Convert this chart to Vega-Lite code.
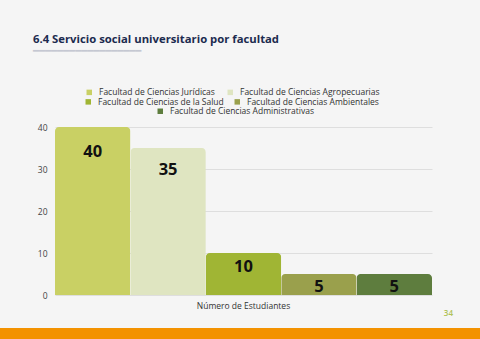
{
  "$schema": "https://vega.github.io/schema/vega-lite/v6.json",
  "background": "#f5f5f5",
  "padding": {"left": 0, "right": 0, "top": 33, "bottom": 0},
  "title": {
    "text": "6.4 Servicio social universitario por facultad",
    "subtitle": "━━━━━━━━━━━━━━━━━━",
    "anchor": "start",
    "dx": 33,
    "font": "Open Sans",
    "fontSize": 11.3,
    "fontWeight": "bold",
    "color": "#1c2b4f",
    "subtitleFont": "DejaVu Sans",
    "subtitleFontSize": 10,
    "subtitleColor": "#c5c8d2",
    "subtitlePadding": 1,
    "offset": 32
  },
  "config": {
    "view": {"stroke": null},
    "font": "Open Sans",
    "legend": {
      "title": null,
      "orient": "none",
      "direction": "horizontal",
      "padding": 0,
      "symbolType": "square",
      "symbolSize": 30,
      "labelFontSize": 8.5,
      "labelColor": "#333333",
      "labelOffset": 5.5,
      "columnPadding": 11
    }
  },
  "spacing": 0,
  "vconcat": [
    {
      "spacing": 0,
      "hconcat": [
        {
          "width": 1,
          "height": 1,
          "data": {"values": []},
          "mark": "point",
          "encoding": {}
        },
        {
          "width": 377,
          "height": 168,
          "data": {
            "values": [
              {"grupo": "Número de Estudiantes", "facultad": "Facultad de Ciencias Jurídicas", "estudiantes": 40},
              {"grupo": "Número de Estudiantes", "facultad": "Facultad de Ciencias Agropecuarias", "estudiantes": 35},
              {"grupo": "Número de Estudiantes", "facultad": "Facultad de Ciencias de la Salud", "estudiantes": 10},
              {"grupo": "Número de Estudiantes", "facultad": "Facultad de Ciencias Ambientales", "estudiantes": 5},
              {"grupo": "Número de Estudiantes", "facultad": "Facultad de Ciencias Administrativas", "estudiantes": 5}
            ]
          },
          "encoding": {
            "x": {
              "field": "grupo",
              "type": "nominal",
              "scale": {"paddingInner": 0, "paddingOuter": 0},
              "axis": {"title": null, "labelAngle": 0, "ticks": false, "domain": false, "labelFontSize": 8.5, "labelColor": "#333333", "labelPadding": 6}
            },
            "xOffset": {
              "field": "facultad",
              "type": "nominal",
              "sort": null,
              "scale": {
                "domain": ["Facultad de Ciencias Jurídicas", "Facultad de Ciencias Agropecuarias", "Facultad de Ciencias de la Salud", "Facultad de Ciencias Ambientales", "Facultad de Ciencias Administrativas"],
                "paddingInner": 0,
                "paddingOuter": 0
              }
            },
            "y": {
              "field": "estudiantes",
              "type": "quantitative",
              "scale": {"domain": [0, 40]},
              "axis": {"title": null, "values": [0, 10, 20, 30, 40], "ticks": false, "domain": false, "gridColor": "#dedede", "labelFontSize": 8.5, "labelColor": "#444444", "labelPadding": 8, "minExtent": 54, "maxExtent": 54}
            }
          },
          "layer": [
            {
              "transform": [{"filter": {"field": "facultad", "oneOf": ["Facultad de Ciencias Jurídicas", "Facultad de Ciencias Agropecuarias"]}}],
              "mark": {"type": "bar", "cornerRadiusTopLeft": 4, "cornerRadiusTopRight": 4},
              "encoding": {
                "color": {
                  "field": "facultad",
                  "type": "nominal",
                  "scale": {"domain": ["Facultad de Ciencias Jurídicas", "Facultad de Ciencias Agropecuarias"], "range": ["#c9d064", "#dfe5c1"]},
                  "legend": {"legendX": 30, "legendY": -39}
                }
              }
            },
            {
              "transform": [{"filter": {"field": "facultad", "oneOf": ["Facultad de Ciencias de la Salud", "Facultad de Ciencias Ambientales"]}}],
              "mark": {"type": "bar", "cornerRadiusTopLeft": 4, "cornerRadiusTopRight": 4},
              "encoding": {
                "color": {
                  "field": "facultad",
                  "type": "nominal",
                  "scale": {"domain": ["Facultad de Ciencias de la Salud", "Facultad de Ciencias Ambientales"], "range": ["#a0b534", "#9aa04c"]},
                  "legend": {"legendX": 29, "legendY": -29.5, "columnPadding": 9}
                }
              }
            },
            {
              "transform": [{"filter": {"field": "facultad", "oneOf": ["Facultad de Ciencias Administrativas"]}}],
              "mark": {"type": "bar", "cornerRadiusTopLeft": 4, "cornerRadiusTopRight": 4},
              "encoding": {
                "color": {
                  "field": "facultad",
                  "type": "nominal",
                  "scale": {"domain": ["Facultad de Ciencias Administrativas"], "range": ["#5e7d3e"]},
                  "legend": {"legendX": 101, "legendY": -20}
                }
              }
            },
            {
              "transform": [{"filter": "datum.estudiantes >= 38"}],
              "mark": {"type": "text", "dy": 25, "fontSize": 16.5, "fontWeight": "bold", "color": "#111111"},
              "encoding": {"text": {"field": "estudiantes", "type": "quantitative"}}
            },
            {
              "transform": [{"filter": "datum.estudiantes >= 20 && datum.estudiantes < 38"}],
              "mark": {"type": "text", "dy": 22, "fontSize": 16.5, "fontWeight": "bold", "color": "#111111"},
              "encoding": {"text": {"field": "estudiantes", "type": "quantitative"}}
            },
            {
              "transform": [{"filter": "datum.estudiantes >= 10 && datum.estudiantes < 20"}],
              "mark": {"type": "text", "dy": 14, "fontSize": 16.5, "fontWeight": "bold", "color": "#111111"},
              "encoding": {"text": {"field": "estudiantes", "type": "quantitative"}}
            },
            {
              "transform": [{"filter": "datum.estudiantes < 10"}],
              "mark": {"type": "text", "dy": 12.5, "fontSize": 16.5, "fontWeight": "bold", "color": "#111111"},
              "encoding": {"text": {"field": "estudiantes", "type": "quantitative"}}
            }
          ],
          "resolve": {"scale": {"color": "independent"}, "legend": {"color": "independent"}}
        }
      ]
    },
    {
      "width": 480,
      "height": 11,
      "title": {"text": "34", "anchor": "end", "dx": -27, "offset": 10, "fontSize": 8, "fontWeight": 600, "color": "#b0c258", "font": "Open Sans"},
      "data": {"values": [{"k": 1}]},
      "mark": {"type": "rect", "color": "#f39200"},
      "encoding": {}
    }
  ]
}
